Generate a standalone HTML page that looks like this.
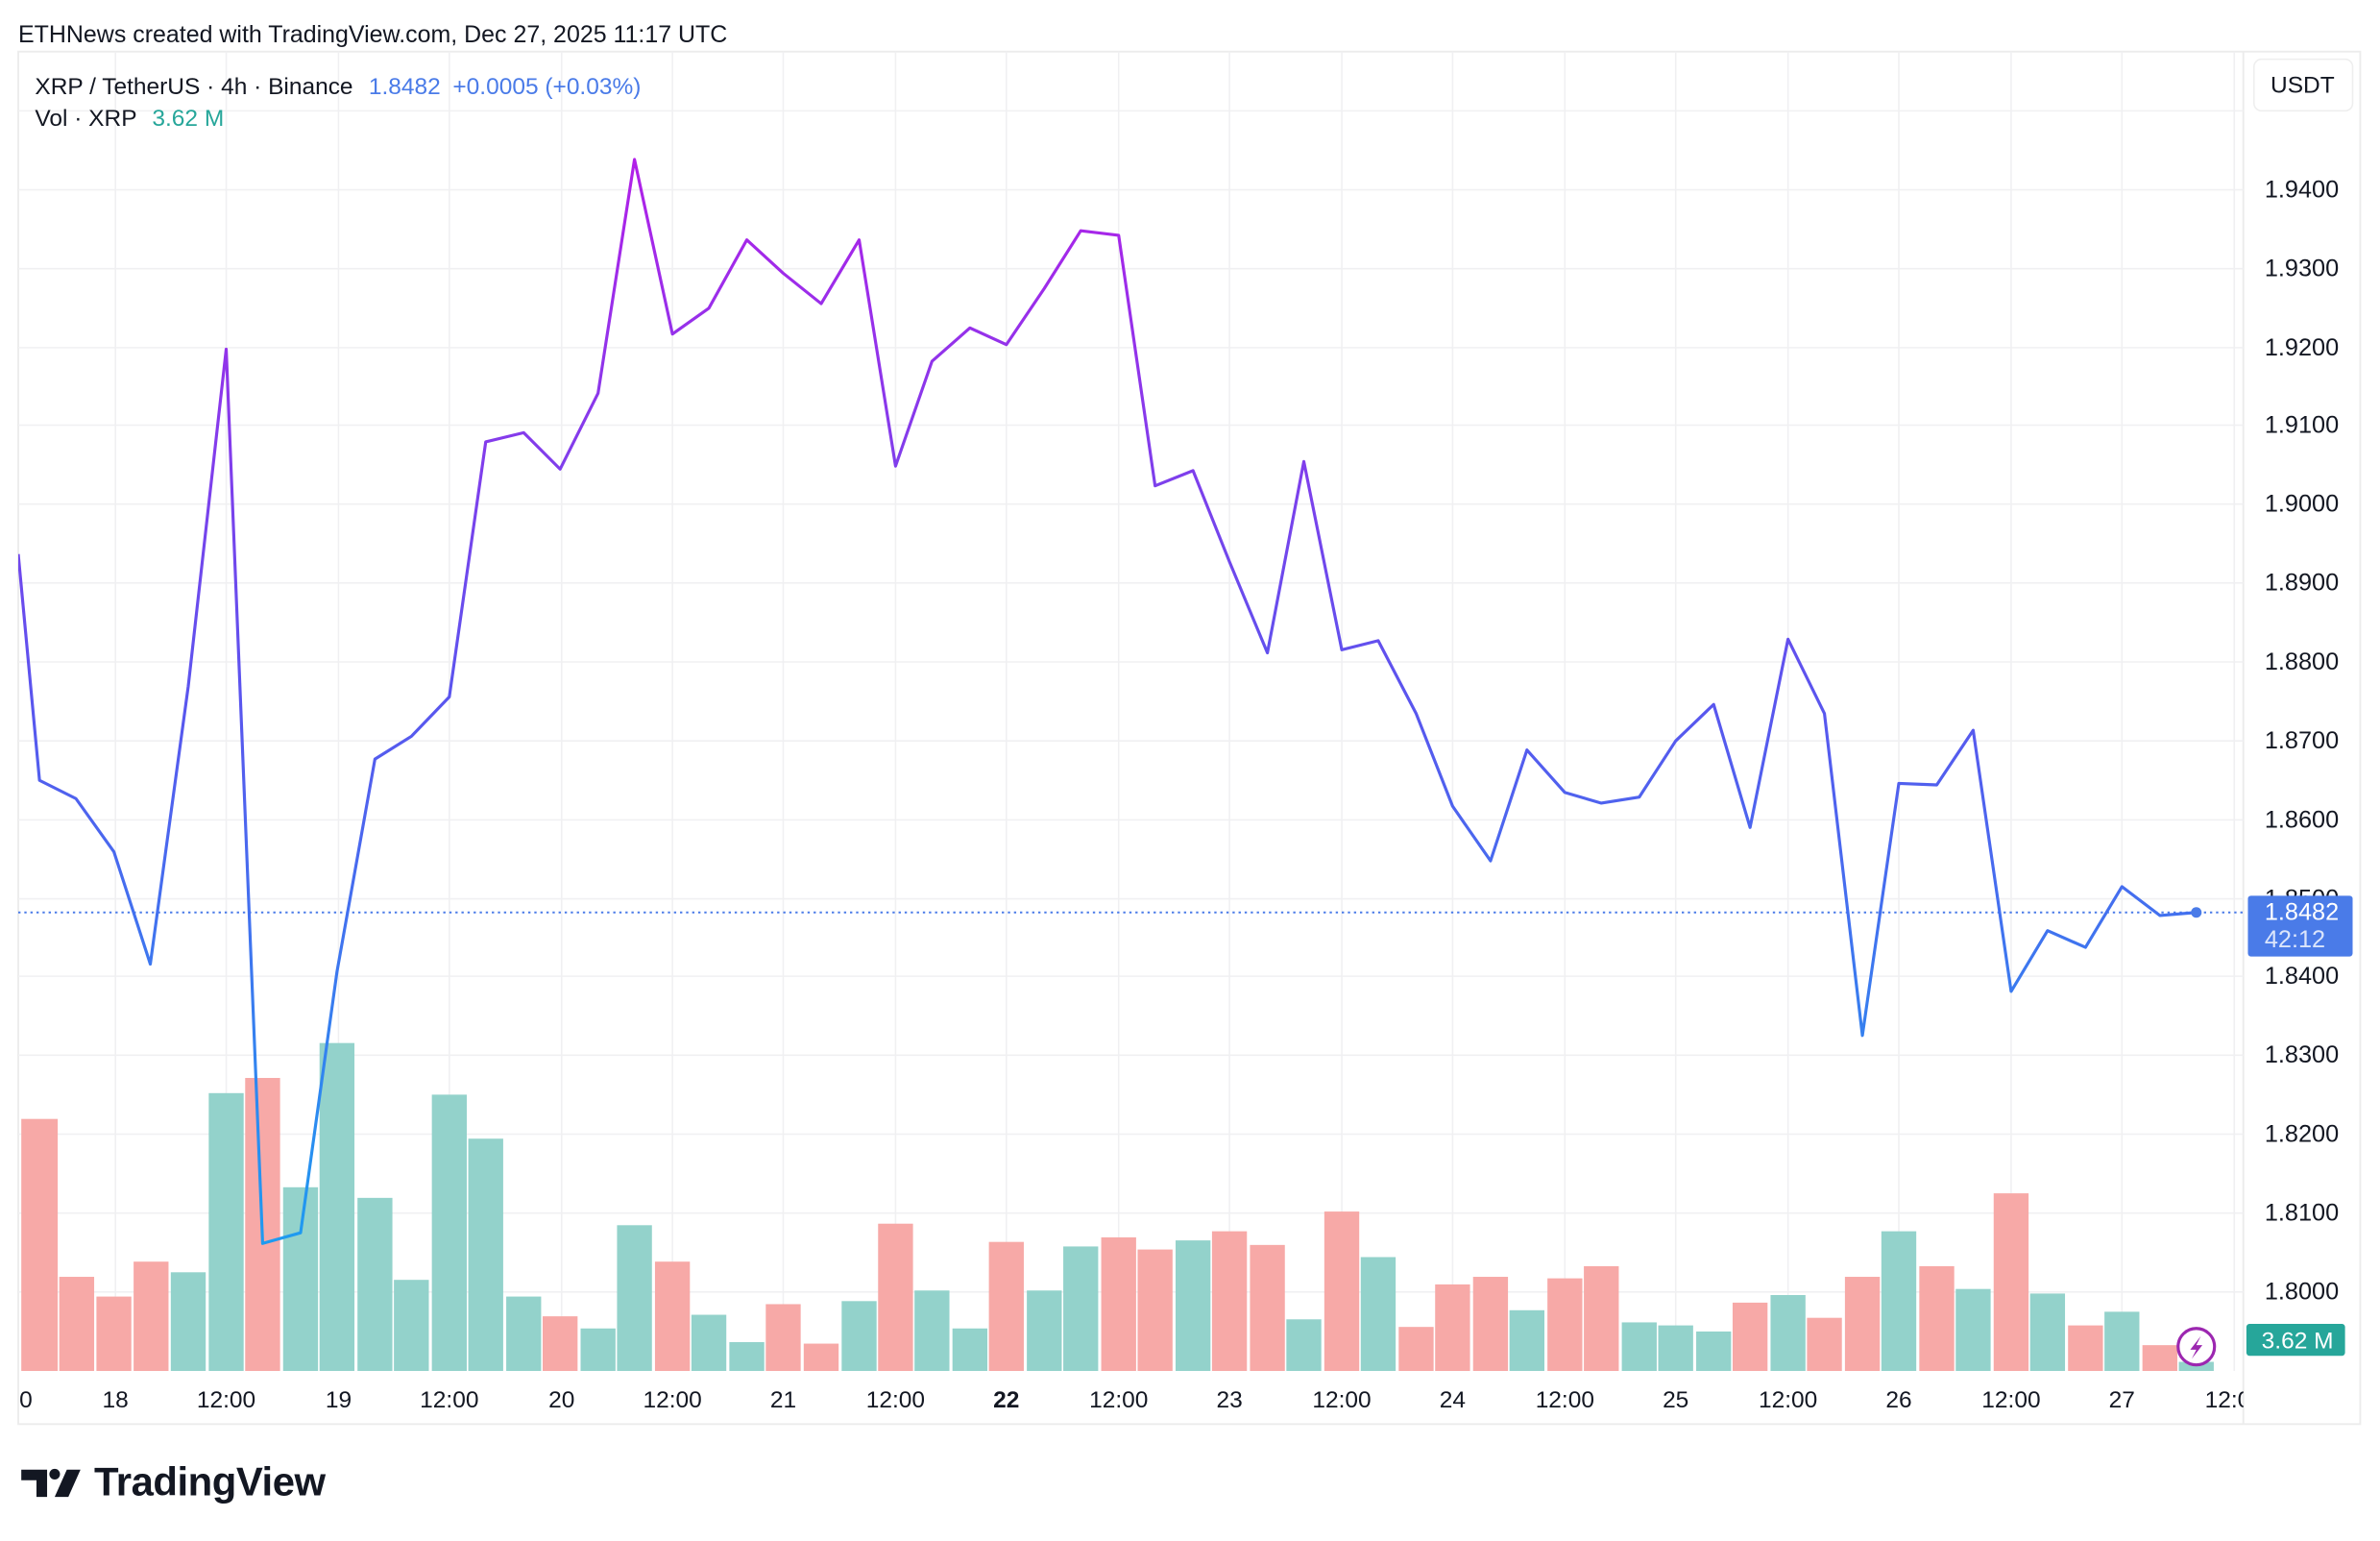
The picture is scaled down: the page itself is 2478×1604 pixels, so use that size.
<!DOCTYPE html>
<html><head><meta charset="utf-8"><style>
html,body{margin:0;padding:0;background:#fff;}
svg{display:block;}
text{font-family:"Liberation Sans",Arial,sans-serif;}
</style></head><body>
<svg width="2478" height="1604" viewBox="0 0 1568 1015" xmlns="http://www.w3.org/2000/svg">
<defs>
<linearGradient id="lg" gradientUnits="userSpaceOnUse" x1="0" y1="100" x2="0" y2="820">
<stop offset="0" stop-color="#b31fe8"/>
<stop offset="0.5" stop-color="#5a55ee"/>
<stop offset="1" stop-color="#1e9bf0"/>
</linearGradient>
<clipPath id="pc"><rect x="12" y="34" width="1466" height="869"/></clipPath>
</defs>
<rect width="1568" height="1015" fill="#fff"/>
<text x="12" y="28" font-size="15.8" fill="#131722">ETHNews created with TradingView.com, Dec 27, 2025 11:17 UTC</text>
<rect x="12" y="34" width="1543" height="904" fill="none" stroke="#ececec" stroke-width="1.2"/>
<line x1="1478" y1="34" x2="1478" y2="938" stroke="#ececec" stroke-width="1.2"/>
<g stroke="#f0f0f2" stroke-width="1">
<line x1="12" x2="1478" y1="73" y2="73"/><line x1="12" x2="1478" y1="125" y2="125"/><line x1="12" x2="1478" y1="177" y2="177"/><line x1="12" x2="1478" y1="229" y2="229"/><line x1="12" x2="1478" y1="280" y2="280"/><line x1="12" x2="1478" y1="332" y2="332"/><line x1="12" x2="1478" y1="384" y2="384"/><line x1="12" x2="1478" y1="436" y2="436"/><line x1="12" x2="1478" y1="488" y2="488"/><line x1="12" x2="1478" y1="540" y2="540"/><line x1="12" x2="1478" y1="592" y2="592"/><line x1="12" x2="1478" y1="643" y2="643"/><line x1="12" x2="1478" y1="695" y2="695"/><line x1="12" x2="1478" y1="747" y2="747"/><line x1="12" x2="1478" y1="799" y2="799"/><line x1="12" x2="1478" y1="851" y2="851"/>
<line y1="34" y2="903" x1="76" x2="76"/><line y1="34" y2="903" x1="149" x2="149"/><line y1="34" y2="903" x1="223" x2="223"/><line y1="34" y2="903" x1="296" x2="296"/><line y1="34" y2="903" x1="370" x2="370"/><line y1="34" y2="903" x1="443" x2="443"/><line y1="34" y2="903" x1="516" x2="516"/><line y1="34" y2="903" x1="590" x2="590"/><line y1="34" y2="903" x1="663" x2="663"/><line y1="34" y2="903" x1="737" x2="737"/><line y1="34" y2="903" x1="810" x2="810"/><line y1="34" y2="903" x1="884" x2="884"/><line y1="34" y2="903" x1="957" x2="957"/><line y1="34" y2="903" x1="1031" x2="1031"/><line y1="34" y2="903" x1="1104" x2="1104"/><line y1="34" y2="903" x1="1178" x2="1178"/><line y1="34" y2="903" x1="1251" x2="1251"/><line y1="34" y2="903" x1="1325" x2="1325"/><line y1="34" y2="903" x1="1398" x2="1398"/><line y1="34" y2="903" x1="1472" x2="1472"/>
</g>
<g clip-path="url(#pc)">
<g fill="#f7a9a7">
<rect x="14" y="737" width="24" height="166"/>
<rect x="39" y="841" width="23" height="62"/>
<rect x="63.5" y="854" width="23" height="49"/>
<rect x="88" y="831" width="23" height="72"/>
<rect x="161.5" y="710" width="23" height="193"/>
<rect x="357.5" y="867" width="23" height="36"/>
<rect x="431.5" y="831" width="23" height="72"/>
<rect x="504.5" y="859" width="23" height="44"/>
<rect x="529.5" y="885" width="23" height="18"/>
<rect x="578.5" y="806" width="23" height="97"/>
<rect x="651.5" y="818" width="23" height="85"/>
<rect x="725.5" y="815" width="23" height="88"/>
<rect x="749.5" y="823" width="23" height="80"/>
<rect x="798.5" y="811" width="23" height="92"/>
<rect x="823.5" y="820" width="23" height="83"/>
<rect x="872.5" y="798" width="23" height="105"/>
<rect x="921.5" y="874" width="23" height="29"/>
<rect x="945.5" y="846" width="23" height="57"/>
<rect x="970.5" y="841" width="23" height="62"/>
<rect x="1019.5" y="842" width="23" height="61"/>
<rect x="1043.5" y="834" width="23" height="69"/>
<rect x="1141.5" y="858" width="23" height="45"/>
<rect x="1190.5" y="868" width="23" height="35"/>
<rect x="1215.5" y="841" width="23" height="62"/>
<rect x="1264.5" y="834" width="23" height="69"/>
<rect x="1313.5" y="786" width="23" height="117"/>
<rect x="1362.5" y="873" width="23" height="30"/>
<rect x="1411.5" y="886" width="23" height="17"/>
</g>
<g fill="#93d2cb">
<rect x="112.5" y="838" width="23" height="65"/>
<rect x="137.5" y="720" width="23" height="183"/>
<rect x="186.5" y="782" width="23" height="121"/>
<rect x="210.5" y="687" width="23" height="216"/>
<rect x="235.5" y="789" width="23" height="114"/>
<rect x="259.5" y="843" width="23" height="60"/>
<rect x="284.5" y="721" width="23" height="182"/>
<rect x="308.5" y="750" width="23" height="153"/>
<rect x="333.5" y="854" width="23" height="49"/>
<rect x="382.5" y="875" width="23" height="28"/>
<rect x="406.5" y="807" width="23" height="96"/>
<rect x="455.5" y="866" width="23" height="37"/>
<rect x="480.5" y="884" width="23" height="19"/>
<rect x="554.5" y="857" width="23" height="46"/>
<rect x="602.5" y="850" width="23" height="53"/>
<rect x="627.5" y="875" width="23" height="28"/>
<rect x="676.5" y="850" width="23" height="53"/>
<rect x="700.5" y="821" width="23" height="82"/>
<rect x="774.5" y="817" width="23" height="86"/>
<rect x="847.5" y="869" width="23" height="34"/>
<rect x="896.5" y="828" width="23" height="75"/>
<rect x="994.5" y="863" width="23" height="40"/>
<rect x="1068.5" y="871" width="23" height="32"/>
<rect x="1092.5" y="873" width="23" height="30"/>
<rect x="1117.5" y="877" width="23" height="26"/>
<rect x="1166.5" y="853" width="23" height="50"/>
<rect x="1239.5" y="811" width="23" height="92"/>
<rect x="1288.5" y="849" width="23" height="54"/>
<rect x="1337.5" y="852" width="23" height="51"/>
<rect x="1386.5" y="864" width="23" height="39"/>
<rect x="1435.5" y="897" width="23" height="6"/>
</g>
<line x1="12" x2="1478" y1="601" y2="601" stroke="#4a7be8" stroke-width="1.2" stroke-dasharray="1.5 2.5"/>
<polyline fill="none" stroke="url(#lg)" stroke-width="2" stroke-linejoin="round" points="12,365 26,514 50,526 75,561 99,635 124,452 149,230 173,819 198,812 222,640 247,500 271,485 296,459 320,291 345,285 369,309 394,259 418,105 443,220 467,203 492,158 516,180 541,200 566,158 590,307 614,238 639,216 663,227 688,190 712,152 737,155 761,320 786,310 810,370 835,430 859,304 884,428 908,422 933,470 957,531 982,567 1006,494 1031,522 1055,529 1080,525 1104,488 1129,464 1153,545 1178,421 1202,470 1227,682 1251,516 1276,517 1300,481 1325,653 1349,613 1374,624 1398,584 1423,603 1447,601"/>
<circle cx="1447" cy="601" r="3.5" fill="#4a7be8"/>
</g>
<circle cx="1447" cy="887" r="12" fill="#fff" stroke="#9c27b0" stroke-width="2"/>
<path d="M1450,880 L1443,889 L1447,889 L1444,895 L1451,886 L1447,886 Z" fill="#9c27b0"/>
<text x="23" y="62" font-size="15.5" fill="#131722">XRP / TetherUS · 4h · Binance <tspan fill="#4a7be8" dx="6">1.8482</tspan><tspan fill="#4a7be8" dx="8">+0.0005 (+0.03%)</tspan></text>
<text x="23" y="83" font-size="15.5" fill="#131722">Vol · XRP <tspan fill="#26a69a" dx="6">3.62 M</tspan></text>
<g font-size="16" fill="#131722">
<text x="1492" y="130">1.9400</text><text x="1492" y="182">1.9300</text><text x="1492" y="234">1.9200</text><text x="1492" y="285">1.9100</text><text x="1492" y="337">1.9000</text><text x="1492" y="389">1.8900</text><text x="1492" y="441">1.8800</text><text x="1492" y="493">1.8700</text><text x="1492" y="545">1.8600</text><text x="1492" y="597">1.8500</text><text x="1492" y="648">1.8400</text><text x="1492" y="700">1.8300</text><text x="1492" y="752">1.8200</text><text x="1492" y="804">1.8100</text><text x="1492" y="856">1.8000</text>
</g>
<rect x="1485" y="39" width="65" height="34" rx="5" fill="#fff" stroke="#eeeeee"/>
<text x="1517" y="61" font-size="15.5" fill="#131722" text-anchor="middle">USDT</text>
<rect x="1481" y="590" width="69" height="40" rx="2" fill="#4a7be8"/>
<text x="1492" y="606" font-size="16" fill="#fff">1.8482</text>
<text x="1492" y="624" font-size="16" fill="#dbe5fb">42:12</text>
<rect x="1480" y="872" width="65" height="21" rx="2" fill="#26a69a"/>
<text x="1490" y="888" font-size="15.5" fill="#fff">3.62 M</text>
<svg x="12" y="905" width="1466" height="33" viewBox="12 905 1466 33">
<g font-size="15.5" fill="#131722" text-anchor="middle">
<text x="17" y="927">0</text><text x="76" y="927">18</text><text x="149" y="927">12:00</text><text x="223" y="927">19</text><text x="296" y="927">12:00</text><text x="370" y="927">20</text><text x="443" y="927">12:00</text><text x="516" y="927">21</text><text x="590" y="927">12:00</text><text x="663" y="927" font-weight="bold">22</text><text x="737" y="927">12:00</text><text x="810" y="927">23</text><text x="884" y="927">12:00</text><text x="957" y="927">24</text><text x="1031" y="927">12:00</text><text x="1104" y="927">25</text><text x="1178" y="927">12:00</text><text x="1251" y="927">26</text><text x="1325" y="927">12:00</text><text x="1398" y="927">27</text><text x="1472" y="927">12:00</text>
</g></svg>
<g fill="#131722">
<path d="M14,968 H31 V986 H24 V975 H14 Z"/>
<circle cx="36" cy="971" r="3.5"/>
<path d="M44,968 H53 L45,986 H36 Z"/>
</g>
<text x="62" y="985" font-size="26.5" font-weight="bold" fill="#131722" letter-spacing="-0.3">TradingView</text>
</svg>
</body></html>
